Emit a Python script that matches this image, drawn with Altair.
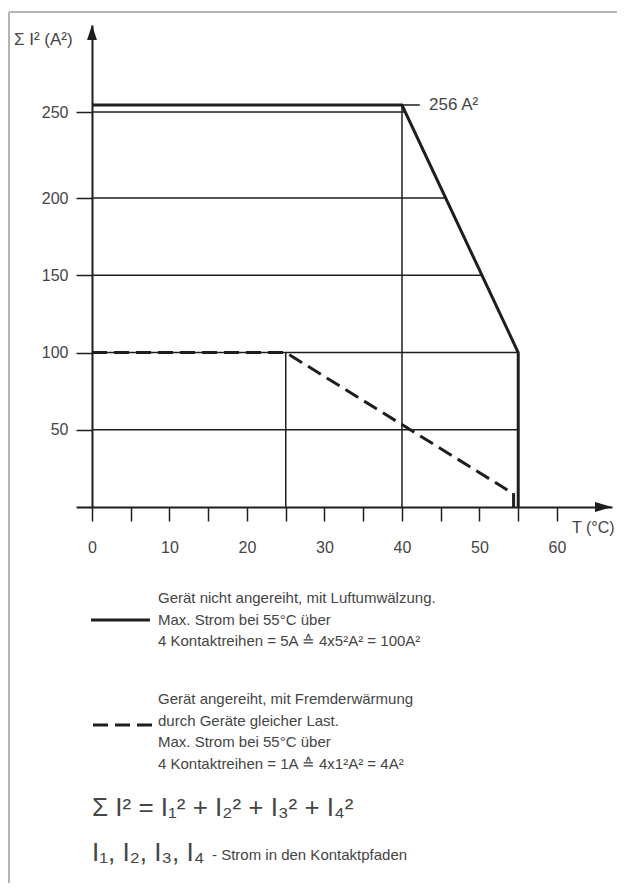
import altair as alt
import pandas as pd

# ---------------- data ----------------
T_SOLID = [0, 40, 55, 55]
S_SOLID = [256, 256, 100, 0]
T_DASH = [0, 25, 53.6]
S_DASH = [100, 100, 11]
T_DASH_STUB = [54.4]
S_DASH_STUB = [9]

GRID_H = [50, 100, 150, 200, 250]
GRID_H_END = [55, 55, 50.3, 45.6, 40.4]
GRID_V = [25, 40]
GRID_V_TOP = [100, 256]
MAX_LINE_T = [40, 42.3]
MAX_VALUE = 256
MAX_LABEL = "256 A²"
MAX_LABEL_T = 43.5

X_TICKS = [0, 5, 10, 15, 20, 25, 30, 35, 40, 45, 50, 55, 60]
Y_TICKS = [50, 100, 150, 200, 250]
X_MIN, X_MAX = -2.065, 67.1
Y_TOP = 300

Y_TITLE = "Σ  I² (A²)"
X_TITLE = "T (°C)"

LEGEND_SOLID = [
    "Gerät nicht angereiht, mit Luftumwälzung.",
    "Max. Strom bei 55°C über",
    "4 Kontaktreihen = 5A ≙ 4x5²A² = 100A²",
]
LEGEND_DASH = [
    "Gerät angereiht, mit Fremderwärmung",
    "durch Geräte gleicher Last.",
    "Max. Strom bei 55°C über",
    "4 Kontaktreihen = 1A ≙ 4x1²A² = 4A²",
]
FORMULA = "Σ I² = I₁² + I₂² + I₃² + I₄²"
NOTE_I = "I₁, I₂, I₃, I₄"
NOTE_TEXT = "- Strom in den Kontaktpfaden"

# ---------------- styling / layout ----------------
FONT = "Liberation Sans, Arial, Helvetica, sans-serif"
INK = "#1e1e1e"
TXT = "#454545"
ORIGIN_X, ORIGIN_Y = 76, 25      # page position of the plot area
PLOT_W, PLOT_H = 536, 482


def px(page_x):
    return page_x - ORIGIN_X


def py(page_y):
    return page_y - ORIGIN_Y


xs = alt.Scale(domain=[X_MIN, X_MAX], nice=False, zero=False)
ys = alt.Scale(domain=[0, 200, 250, 256, Y_TOP], range=[PLOT_H, 173, 87, 80, 0],
               nice=False, zero=False)

x_axis = alt.Axis(values=X_TICKS, labelExpr="datum.value % 10 === 0 ? datum.label : ''",
                  tickSize=14, tickWidth=1.5, tickColor=INK, domainColor=INK, domainWidth=2,
                  labelFont=FONT, labelFontSize=16, labelColor=TXT, labelPadding=18,
                  labelFlush=False, labelOverlap=False, grid=False, title=None)
y_axis = alt.Axis(values=Y_TICKS, offset=-16, tickSize=16, tickWidth=1.5, tickColor=INK,
                  domainColor=INK, domainWidth=2, labelFont=FONT, labelFontSize=16,
                  labelColor=TXT, labelPadding=8, grid=False, title=None)


def X(field):
    return alt.X(field, scale=xs, axis=x_axis)


def Y(field):
    return alt.Y(field, scale=ys, axis=y_axis)


solid_df = pd.DataFrame({"T": T_SOLID, "S": S_SOLID, "o": range(len(T_SOLID))})
dash_df = pd.DataFrame({"T": T_DASH, "S": S_DASH, "o": range(len(T_DASH))})
stub_df = pd.DataFrame({"T": T_DASH_STUB, "S": S_DASH_STUB, "S0": [0]})
gh_df = pd.DataFrame({"S": GRID_H, "T": [0] * len(GRID_H), "T1": GRID_H_END})
gv_df = pd.DataFrame({"T": GRID_V, "S": [0] * len(GRID_V), "S1": GRID_V_TOP})
max_df = pd.DataFrame({"T": [MAX_LINE_T[0]], "T1": [MAX_LINE_T[1]], "S": [MAX_VALUE]})
maxl_df = pd.DataFrame({"T": [MAX_LABEL_T], "S": [MAX_VALUE], "label": [MAX_LABEL]})
yarrow_df = pd.DataFrame({"T": [0], "S": [Y_TOP]})
xarrow_df = pd.DataFrame({"T": [X_MAX], "S": [0]})

solid = alt.Chart(solid_df).mark_line(color=INK, strokeWidth=3, strokeJoin="miter").encode(
    x=X("T:Q"), y=Y("S:Q"), order="o:Q")
dashed = alt.Chart(dash_df).mark_line(color=INK, strokeWidth=3, strokeDash=[15, 7]).encode(
    x=X("T:Q"), y=Y("S:Q"), order="o:Q")
stub = alt.Chart(stub_df).mark_rule(color=INK, strokeWidth=3).encode(
    x=X("T:Q"), y=Y("S:Q"), y2="S0:Q")

grid_h = alt.Chart(gh_df).mark_rule(color=INK, strokeWidth=1.5).encode(
    x=X("T:Q"), x2="T1:Q", y=Y("S:Q"))
grid_v = alt.Chart(gv_df).mark_rule(color=INK, strokeWidth=1.5).encode(
    x=X("T:Q"), y=Y("S:Q"), y2="S1:Q")
max_rule = alt.Chart(max_df).mark_rule(color=INK, strokeWidth=1.5).encode(
    x=X("T:Q"), x2="T1:Q", y=Y("S:Q"))
max_text = alt.Chart(maxl_df).mark_text(align="left", baseline="middle", font=FONT,
                                        fontSize=17, color=TXT).encode(
    x=X("T:Q"), y=Y("S:Q"), text="label:N")

yarrow = alt.Chart(yarrow_df).mark_point(shape="M0,0L-0.33,1L0.33,1Z", size=900, filled=True,
                                         color=INK, opacity=1, strokeWidth=0).encode(
    x=X("T:Q"), y=Y("S:Q"))
xarrow = alt.Chart(xarrow_df).mark_point(shape="M0,0L-1,-0.3L-1,0.3Z", size=1156, filled=True,
                                         color=INK, opacity=1, strokeWidth=0).encode(
    x=X("T:Q"), y=Y("S:Q"))


# ---- annotation texts (layout positions) ----
def text_layer(text, page_x, page_y, size, align="left", color=TXT):
    return alt.Chart(pd.DataFrame({"t": [text]})).mark_text(
        align=align, baseline="middle", font=FONT, fontSize=size, color=color).encode(
        text="t:N", x=alt.value(px(page_x)), y=alt.value(py(page_y)))


layers = [grid_h, grid_v, max_rule, solid, dashed, stub, yarrow, xarrow, max_text]
layers.append(text_layer(Y_TITLE, 14, 40, 17))
layers.append(text_layer(X_TITLE, 572, 528, 16))

# legend samples
layers.append(alt.Chart(pd.DataFrame({"k": [0]})).mark_rule(color=INK, strokeWidth=3).encode(
    x=alt.value(px(91)), x2=alt.value(px(150)), y=alt.value(py(620))))
layers.append(alt.Chart(pd.DataFrame({"k": [0]})).mark_rule(
    color=INK, strokeWidth=3, strokeDash=[15, 7]).encode(
    x=alt.value(px(93)), x2=alt.value(px(152)), y=alt.value(py(725))))

for i, line in enumerate(LEGEND_SOLID):
    layers.append(text_layer(line, 158, 598 + 21.5 * i, 15))
for i, line in enumerate(LEGEND_DASH):
    layers.append(text_layer(line, 158, 699 + 21.5 * i, 15))

layers.append(text_layer(FORMULA, 92, 808, 26))
layers.append(text_layer(NOTE_I, 92, 853, 26))
layers.append(text_layer(NOTE_TEXT, 212, 855, 15))

# page frame (grey border of the source figure)
layers.append(alt.Chart(pd.DataFrame({"k": [0]})).mark_rule(color="#b4b4b4", strokeWidth=2).encode(
    x=alt.value(px(9)), x2=alt.value(px(700)), y=alt.value(py(12))))
layers.append(alt.Chart(pd.DataFrame({"k": [0]})).mark_rule(color="#b4b4b4", strokeWidth=2).encode(
    x=alt.value(px(9)), y=alt.value(py(12)), y2=alt.value(py(900))))

chart = alt.layer(*layers).properties(
    width=PLOT_W, height=PLOT_H,
    autosize=alt.AutoSizeParams(type="none"),
    padding={"left": ORIGIN_X - 8, "top": ORIGIN_Y - 8, "right": 5, "bottom": 376},
    background="white",
).configure_view(stroke=None)

chart.save("out.html", embed_options={"renderer": "svg", "actions": False})
